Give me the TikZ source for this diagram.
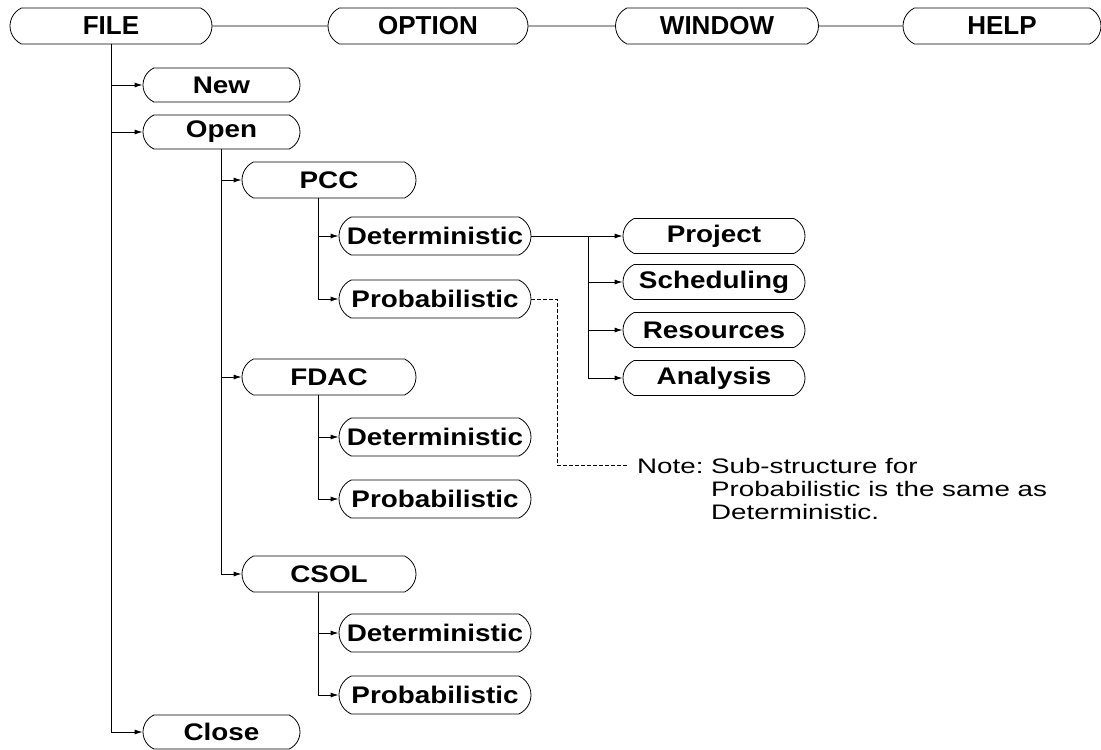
\documentclass[tikz,border=0pt]{standalone}
\usepackage{fontspec}
\setmainfont{Liberation Sans}
\newfontfamily\menufont{Liberation Sans}[FakeStretch=1.16]
\newfontfamily\notefont{Liberation Sans}[FakeStretch=1.32]
\usetikzlibrary{arrows.meta}
\usetikzlibrary{shapes.misc}

\begin{document}
\begin{tikzpicture}[x=1pt,y=-1pt,
	topbox/.style={draw,rounded rectangle,rounded rectangle arc length=130,line width=0.8pt,minimum width=200pt,minimum height=36pt,inner sep=0pt,font=\fontsize{26}{30}\selectfont\bfseries},
	menubox/.style={draw,rounded rectangle,rounded rectangle arc length=130,line width=0.8pt,inner sep=0pt,font=\menufont\fontsize{24}{28}\selectfont\bfseries},
	lvlone/.style={menubox,minimum width=157pt,minimum height=34pt},
	lvltwo/.style={menubox,minimum width=174pt,minimum height=36pt},
	lvlthree/.style={menubox,minimum width=192pt,minimum height=38pt},
	lvlfour/.style={menubox,minimum width=182pt,minimum height=35pt},
	link/.style={line width=0.9pt},
	branch/.style={line width=0.9pt,-{Latex[length=8pt,width=5pt]}}]
\useasboundingbox (0,0) rectangle (1101,750);

	\node[topbox,minimum width=202pt] (file) at (111,26) {FILE};
	\node[topbox] (option) at (428,26) {OPTION};
	\node[topbox,minimum width=203pt] (window) at (717,26) {WINDOW};
	\node[topbox,minimum width=198pt] (help) at (1002,26) {HELP};

	\node[lvlone] (new) at (221.5,85) {New};
	\node[lvlone] (open) at (221.5,132) {Open};
	\node[lvlone] (close) at (221.5,732) {Close};

	\node[lvltwo] (pcc) at (329,180) {PCC};
	\node[lvltwo] (fdac) at (329,377) {FDAC};
	\node[lvltwo] (csol) at (329,574) {CSOL};

	\node[lvlthree] (pccdet) at (435,236) {Deterministic};
	\node[lvlthree] (pccprob) at (435,299) {Probabilistic};
	\node[lvlthree] (fdacdet) at (435,437) {Deterministic};
	\node[lvlthree] (fdacprob) at (435,499) {Probabilistic};
	\node[lvlthree] (csoldet) at (435,633) {Deterministic};
	\node[lvlthree] (csolprob) at (435,695) {Probabilistic};

	\node[lvlfour] (project) at (714,236) {Project};
	\node[lvlfour] (sched) at (714,282) {Scheduling};
	\node[lvlfour] (resour) at (714,330) {Resources};
	\node[lvlfour] (analys) at (714,378) {Analysis};

	\node[anchor=north west,inner xsep=9pt,inner ysep=0pt,font=\notefont\fontsize{21}{23}\selectfont] (note) at (628,457)
		{\begin{tabular}{@{}l@{\ }l@{}}Note: & Sub-structure for\\ & Probabilistic is the same as\\ & Deterministic.\end{tabular}};

	\coordinate (hub) at (588,236);
	\coordinate (bend) at (557,465);

\draw[link] (file) -- (option) (option) -- (window) (window) -- (help);
\draw[branch] (file.south) |- (new.west); \draw[branch] (file.south) |- (open.west); \draw[branch] (file.south) |- (close.west);
\draw[branch] (open.south) |- (pcc.west); \draw[branch] (open.south) |- (fdac.west); \draw[branch] (open.south) |- (csol.west);
\draw[branch] ([xshift=-11pt]pcc.south) |- (pccdet.west); \draw[branch] ([xshift=-11pt]pcc.south) |- (pccprob.west);
\draw[branch] ([xshift=-11pt]fdac.south) |- (fdacdet.west); \draw[branch] ([xshift=-11pt]fdac.south) |- (fdacprob.west);
\draw[branch] ([xshift=-11pt]csol.south) |- (csoldet.west); \draw[branch] ([xshift=-11pt]csol.south) |- (csolprob.west);
\draw[link] (pccdet.east) -- (hub); \draw[branch] (hub) -- (project.west);
\draw[branch] (hub) |- (sched.west); \draw[branch] (hub) |- (resour.west); \draw[branch] (hub) |- (analys.west);
\draw[link,dash pattern=on 4pt off 2pt] (pccprob.east) -| (bend) -- (bend -| note.west);

\end{tikzpicture}
\end{document}
